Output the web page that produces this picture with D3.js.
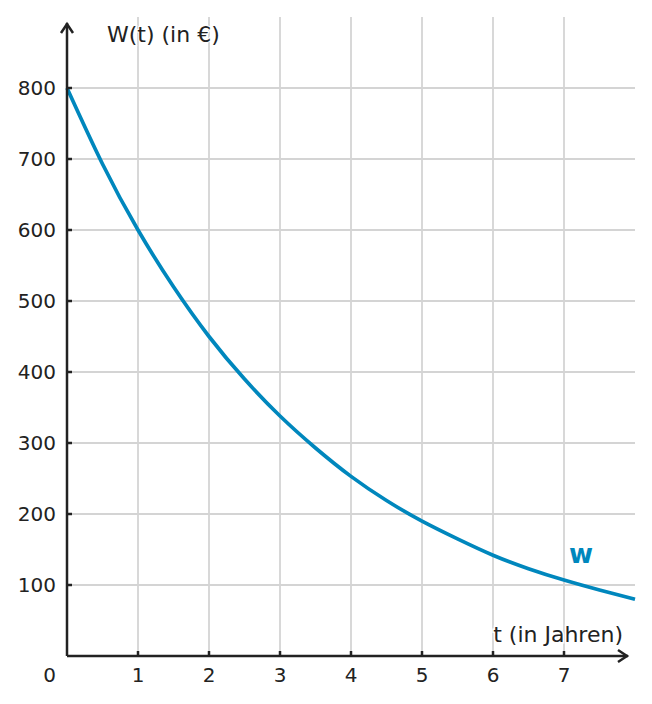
<!DOCTYPE html>
<html><head><meta charset="utf-8">
<script src="https://cdn.jsdelivr.net/npm/d3@7"></script>
<style>body{margin:0;background:#fff}svg{display:block}text{font-family:"DejaVu Sans",sans-serif}</style>
</head><body><svg id="c" width="652" height="704"></svg>
<script>
const tValues = [0,0.5,1,1.5,2,2.5,3,3.5,4,4.5,5,5.5,6,6.5,7,7.5,8];
const wValues = [800,693,600,520,450,390,338,293,253,219,190,165,142,123,107,93,80];
const xTicks = [1,2,3,4,5,6,7];
const yTicks = [100,200,300,400,500,600,700,800];
const xLabel = "t (in Jahren)";
const yLabel = "W(t) (in €)";
const seriesName = "w";

const svg = d3.select("#c");
const x = d3.scaleLinear().domain([0,8]).range([67,635]);
const y = d3.scaleLinear().domain([0,900]).range([656,17]);
const ink = "#222", grid = "#d4d4d4", blue = "#0087bd";

// grid
svg.append("g").selectAll("line").data(xTicks).join("line")
  .attr("x1",d=>x(d)).attr("x2",d=>x(d)).attr("y1",y(900)).attr("y2",y(0))
  .attr("stroke",grid).attr("stroke-width",1.8);
svg.append("g").selectAll("line").data(yTicks).join("line")
  .attr("x1",x(0)).attr("x2",x(8)).attr("y1",d=>y(d)).attr("y2",d=>y(d))
  .attr("stroke",grid).attr("stroke-width",1.8);

// curve
const pts = tValues.map((t,i)=>[t,wValues[i]]);
svg.append("path").datum(pts)
  .attr("d", d3.line().x(d=>x(d[0])).y(d=>y(d[1])).curve(d3.curveNatural))
  .attr("fill","none").attr("stroke",blue).attr("stroke-width",3.7);

// axes
svg.append("line").attr("x1",x(0)).attr("x2",x(0)).attr("y1",y(0)).attr("y2",23)
  .attr("stroke",ink).attr("stroke-width",2.5);
svg.append("path").attr("d",`M${x(0)-6},33 L${x(0)},24 L${x(0)+6},33`)
  .attr("fill","none").attr("stroke",ink).attr("stroke-width",2.5);
svg.append("line").attr("x1",x(0)).attr("x2",628).attr("y1",y(0)).attr("y2",y(0))
  .attr("stroke",ink).attr("stroke-width",2.5);
svg.append("path").attr("d",`M618,${y(0)-6} L627,${y(0)} L618,${y(0)+6}`)
  .attr("fill","none").attr("stroke",ink).attr("stroke-width",2.5);

// ticks
svg.append("g").selectAll("line").data(yTicks).join("line")
  .attr("x1",x(0)).attr("x2",x(0)+5).attr("y1",d=>y(d)).attr("y2",d=>y(d))
  .attr("stroke",ink).attr("stroke-width",2.5);
svg.append("g").selectAll("line").data(xTicks).join("line")
  .attr("x1",d=>x(d)).attr("x2",d=>x(d)).attr("y1",y(0)).attr("y2",y(0)-5)
  .attr("stroke",ink).attr("stroke-width",2.5);

// tick labels
svg.append("g").selectAll("text").data(yTicks).join("text")
  .attr("x",56).attr("y",d=>y(d)+7).attr("text-anchor","end")
  .attr("font-size",20).attr("fill",ink).text(d=>d);
svg.append("g").selectAll("text").data(xTicks).join("text")
  .attr("x",d=>x(d)).attr("y",682).attr("text-anchor","middle")
  .attr("font-size",20).attr("fill",ink).text(d=>d);
svg.append("text").attr("x",56).attr("y",682).attr("text-anchor","end")
  .attr("font-size",20).attr("fill",ink).text("0");

// axis labels
svg.append("text").attr("x",107).attr("y",42).attr("font-size",22).attr("fill",ink)
  .attr("stroke","#fff").attr("stroke-width",2).attr("paint-order","stroke").text(yLabel);
svg.append("text").attr("x",623).attr("y",642).attr("text-anchor","end").attr("font-size",22).attr("fill",ink)
  .attr("stroke","#fff").attr("stroke-width",3).attr("paint-order","stroke").text(xLabel);

// series label
svg.append("text").attr("x",569).attr("y",563).attr("font-size",26).attr("font-weight","bold")
  .attr("fill",blue).text(seriesName);
</script></body></html>
